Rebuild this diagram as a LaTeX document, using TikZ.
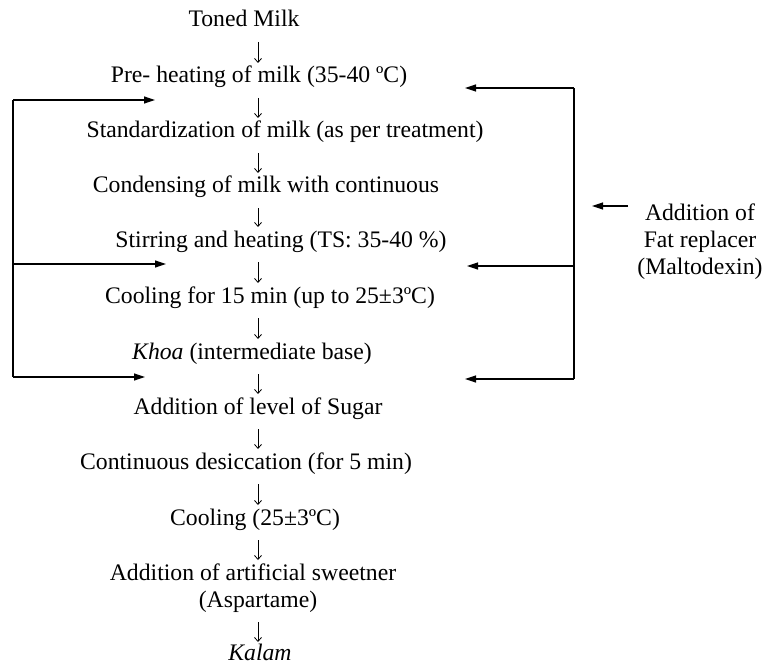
\documentclass[tikz,border=0pt]{standalone}
\usepackage{fontspec}
\setmainfont{Liberation Serif}
\usetikzlibrary{arrows.meta}
\begin{document}
\begin{tikzpicture}[x=1pt,y=-1pt,
  lbl/.style={anchor=base,inner sep=0pt,font=\fontsize{23.7}{27}\selectfont},
  flow/.style={line width=0.8pt,-{Straight Barb[length=4pt,width=7pt]},shorten <=15pt,shorten >=20pt},
  fbline/.style={line width=1.2pt},
  fb/.style={line width=1.2pt,-{Triangle[length=11pt,width=7pt]}}]
\useasboundingbox (0,0) rectangle (766,666);
\coordinate (spine) at (258,0);
\node[lbl] (toned) at (244,27) {Toned Milk};
\node[lbl] (pre) at (259,83) {Pre- heating of milk (35-40 ºC)};
\node[lbl] (std) at (285,138) {Standardization of milk (as per treatment)};
\node[lbl] (cond) at (266,193) {Condensing of milk with continuous};
\node[lbl] (stir) at (281,247) {Stirring and heating (TS: 35-40 \%)};
\node[lbl] (cool) at (270,303) {Cooling for 15 min (up to 25±3ºC)};
\node[lbl] (khoa) at (252,359) {\textit{Khoa} (intermediate base)};
\node[lbl] (sugar) at (258,414) {Addition of level of Sugar};
\node[lbl] (desic) at (246,469) {Continuous desiccation (for 5 min)};
\node[lbl] (cool2) at (255,525) {Cooling (25±3ºC)};
\node[lbl] (sweet) at (253,580) {Addition of artificial sweetner};
\node[lbl] (asp) at (258,607) {(Aspartame)};
\node[lbl] (kalam) at (260,660) {\textit{Kalam}};
\foreach \a/\b in {toned/pre,pre/std,std/cond,cond/stir,stir/cool,cool/khoa,khoa/sugar,sugar/desic,desic/cool2,cool2/sweet}
  \draw[flow] (\a.base -| spine) -- (\b.base -| spine);
\draw[flow,shorten >=18pt] (asp.base -| spine) -- (kalam.base -| spine);
% fat replacer
\node[align=center,inner sep=0pt,font=\fontsize{23.7}{27}\selectfont] (fat) at (700,242) {Addition of\\Fat replacer\\(Maltodexin)};
\coordinate (fattail) at (628,206);
\coordinate (fattip) at (592,206);
\draw[fb] (fattail) -- (fattip);
% left loop
\coordinate (l1) at (13,100);
\coordinate (l2) at (13,264);
\coordinate (l3) at (13,377);
\coordinate (lt1) at (155,100);
\coordinate (lt2) at (166,264);
\coordinate (lt3) at (145,377);
\draw[fbline] (l1) -- (l3);
\draw[fb] (l1) -- (lt1);
\draw[fb] (l2) -- (lt2);
\draw[fb] (l3) -- (lt3);
% right loop
\coordinate (r1) at (574,88);
\coordinate (r2) at (574,266);
\coordinate (r3) at (574,379);
\coordinate (rt1) at (465,88);
\coordinate (rt2) at (467,266);
\coordinate (rt3) at (465,379);
\draw[fbline] (r1) -- (r3);
\draw[fb] (r1) -- (rt1);
\draw[fb] (r2) -- (rt2);
\draw[fb] (r3) -- (rt3);
\end{tikzpicture}
\end{document}
